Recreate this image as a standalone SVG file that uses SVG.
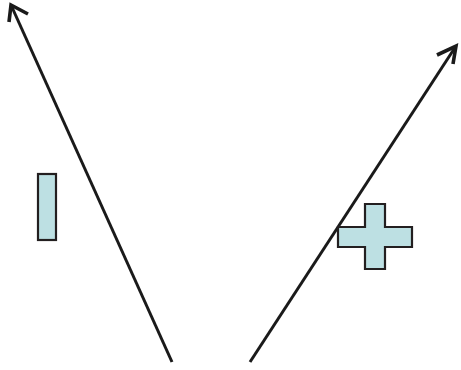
<svg xmlns="http://www.w3.org/2000/svg" width="461" height="370" viewBox="0 0 461 370">
<style>
.ln{fill:none;stroke:#1a1a1a;stroke-width:3;stroke-linecap:butt;stroke-linejoin:miter}
.hd{fill:none;stroke:#1a1a1a;stroke-width:3.6;stroke-linecap:butt;stroke-linejoin:miter}
.shape{fill:#bde0e3;stroke:#231f20;stroke-width:2.2}
</style>
<rect width="461" height="370" fill="#ffffff"/>
<g id="connectors">
<line class="ln" x1="172" y1="362" x2="11" y2="5"/>
<polyline class="hd" points="9,22 11,5 28,14"/>
<line class="ln" x1="250" y1="362" x2="456" y2="46"/>
<polyline class="hd" points="437,55 456,46 453,64"/>
</g>
<g id="bar">
<rect class="shape" x="38" y="174" width="18" height="66"/>
</g>
<g id="cross">
<polygon class="shape" points="365,204 385,204 385,227 412,227 412,247 385,247 385,269 365,269 365,247 338,247 338,227 365,227"/>
</g>
</svg>
